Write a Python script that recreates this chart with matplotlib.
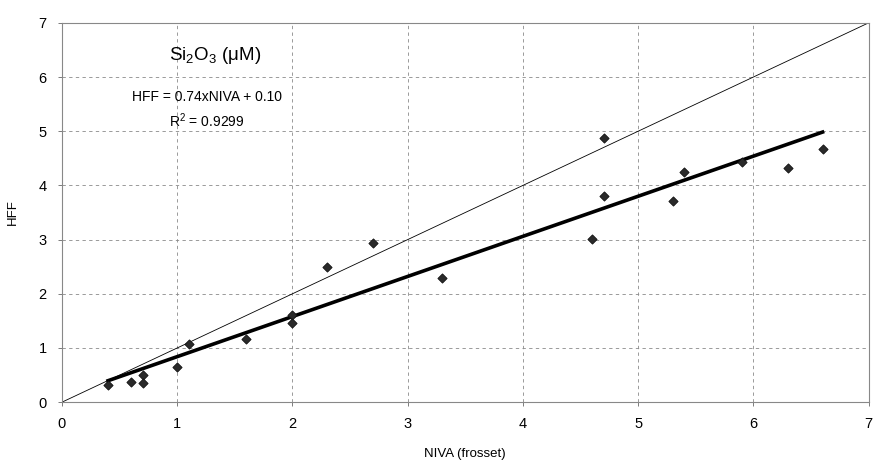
import numpy as np
import matplotlib.pyplot as plt

plt.rcParams['font.family'] = ['Liberation Sans', 'DejaVu Sans']
plt.rcParams['mathtext.fontset'] = 'custom'
plt.rcParams['mathtext.rm'] = 'Liberation Sans'

# NIVA (frosset) vs HFF, Si2O3 (uM)
niva = [0.4, 0.6, 0.7, 0.7, 1.0, 1.1, 1.6, 2.0, 2.0, 2.3, 2.7, 3.3,
        4.6, 4.7, 4.7, 5.3, 5.4, 5.9, 6.3, 6.6]
hff = [0.31, 0.37, 0.50, 0.36, 0.64, 1.07, 1.16, 1.60, 1.46, 2.50, 2.93, 2.29,
       3.02, 4.88, 3.80, 3.71, 4.24, 4.43, 4.32, 4.67]

slope, intercept = 0.74, 0.10
r2 = 0.9299
ticks = [0, 1, 2, 3, 4, 5, 6, 7]

fig = plt.figure(figsize=(8.73, 4.66), dpi=100)
ax = fig.add_axes([0.071, 0.137, 0.924, 0.814])

# 1:1 line
ax.plot([0, 7], [0, 7], color="black", lw=0.6, zorder=2)

# regression line
xf = np.array([min(niva), max(niva)])
ax.plot(xf, slope * xf + intercept, color="black", lw=2.6, zorder=3)

ax.scatter(niva, hff, marker="D", s=22, color="#2a2a2a", edgecolors="#111111",
           linewidths=0.6, zorder=4)

ax.set_xlim(0, 7)
ax.set_ylim(0, 7)
ax.set_xticks(ticks)
ax.set_yticks(ticks)
ax.grid(True, color="#8a8a8a", linestyle=(0, (4, 4)), lw=0.6)
ax.set_axisbelow(True)
for s in ax.spines.values():
    s.set_color("#888888")
    s.set_linewidth(0.8)
ax.tick_params(length=3, width=0.6, color="#666666", labelsize=10.5, pad=8)

ax.set_xlabel("NIVA (frosset)", fontsize=9.5, labelpad=12)
ax.set_ylabel("HFF", fontsize=9.5, labelpad=14)

ax.text(1.33, 6.40, r"Si$_2$O$_3$ ($\mathregular{\mu}$M)", fontsize=13.5,
        ha="center", va="center")
ax.text(1.26, 5.63, f"HFF = {slope:.2f}xNIVA + {intercept:.2f}", fontsize=10,
        ha="center", va="center")
ax.text(1.26, 5.20, f"R$^2$ = {r2:.4f}", fontsize=10, ha="center", va="center")

fig.savefig("out.png", dpi=100)
